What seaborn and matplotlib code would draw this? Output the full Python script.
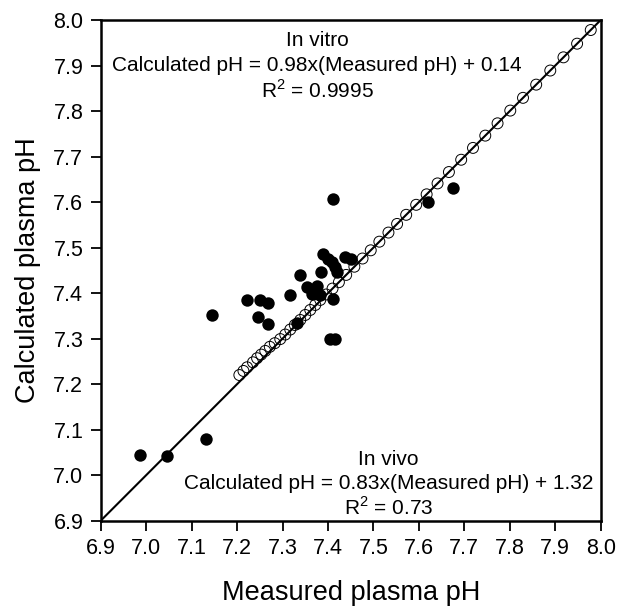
import matplotlib
matplotlib.use("Agg")
import matplotlib.pyplot as plt
import seaborn as sns
import pandas as pd

# In vitro (open circles)
x_vitro = [7.205, 7.214, 7.222, 7.235, 7.244, 7.253, 7.262, 7.272, 7.283, 7.295,
           7.306, 7.317, 7.327, 7.339, 7.350, 7.361, 7.372, 7.383, 7.396, 7.410,
           7.424, 7.440, 7.458, 7.476, 7.494, 7.513, 7.533, 7.552, 7.572, 7.594,
           7.617, 7.641, 7.666, 7.693, 7.719, 7.746, 7.773, 7.801, 7.829, 7.858,
           7.889, 7.918, 7.948, 7.978]
y_vitro = [7.220, 7.229, 7.237, 7.248, 7.257, 7.265, 7.273, 7.282, 7.290, 7.299,
           7.309, 7.320, 7.330, 7.341, 7.352, 7.363, 7.374, 7.385, 7.397, 7.410,
           7.424, 7.440, 7.458, 7.476, 7.494, 7.513, 7.533, 7.552, 7.572, 7.594,
           7.617, 7.641, 7.666, 7.693, 7.719, 7.746, 7.773, 7.801, 7.829, 7.858,
           7.889, 7.918, 7.948, 7.978]

# In vivo (filled circles)
x_vivo = [6.986, 7.046, 7.132, 7.145, 7.221, 7.250, 7.247, 7.269, 7.269, 7.317,
          7.339, 7.331, 7.353, 7.375, 7.364, 7.383, 7.384, 7.390, 7.401, 7.408,
          7.416, 7.419, 7.437, 7.450, 7.412, 7.412, 7.405, 7.415, 7.621, 7.675,
          7.373]
y_vivo = [7.044, 7.043, 7.079, 7.352, 7.385, 7.385, 7.348, 7.379, 7.333, 7.396,
          7.440, 7.335, 7.414, 7.415, 7.399, 7.396, 7.446, 7.487, 7.476, 7.469,
          7.458, 7.447, 7.480, 7.476, 7.386, 7.607, 7.300, 7.300, 7.601, 7.630,
          7.405]

ticks = [6.9, 7.0, 7.1, 7.2, 7.3, 7.4, 7.5, 7.6, 7.7, 7.8, 7.9, 8.0]
tick_labels = ["6.9", "7.0", "7.1", "7.2", "7.3", "7.4", "7.5", "7.6", "7.7", "7.8", "7.9", "8.0"]
identity = [6.9, 8.0]

sns.set_theme(style="ticks", rc={
    "text.color": "black", "axes.labelcolor": "black",
    "xtick.color": "black", "ytick.color": "black",
    "axes.edgecolor": "black",
})
plt.rcParams['font.family'] = ['Liberation Sans', 'DejaVu Sans']
plt.rcParams['mathtext.fontset'] = 'custom'
plt.rcParams['mathtext.rm'] = 'Liberation Sans'

fig = plt.figure(figsize=(6.19, 6.08), dpi=100)
ax = fig.add_axes([0.1627, 0.1436, 0.8078, 0.8235])

df_vitro = pd.DataFrame({"x": x_vitro, "y": y_vitro})
df_vivo = pd.DataFrame({"x": x_vivo, "y": y_vivo})
df_line = pd.DataFrame({"x": identity, "y": identity})

sns.scatterplot(data=df_vitro, x="x", y="y", ax=ax, s=62, marker="o",
                facecolor="none", edgecolor="black", linewidth=0.7, zorder=2)
sns.lineplot(data=df_line, x="x", y="y", ax=ax, color="black", linewidth=1.5, zorder=3)
sns.scatterplot(data=df_vivo, x="x", y="y", ax=ax, s=80, marker="o",
                color="black", edgecolor="black", linewidth=0, zorder=4)

ax.set_xlim(6.9, 8.0)
ax.set_ylim(6.9, 8.0)
ax.set_xticks(ticks)
ax.set_xticklabels(tick_labels)
ax.set_yticks(ticks)
ax.set_yticklabels(tick_labels)
ax.tick_params(axis="both", direction="out", length=7.5, width=1.3,
               labelsize=15.5, color="black", labelcolor="black", pad=5)
for sp in ax.spines.values():
    sp.set_visible(True)
    sp.set_linewidth(1.8)
    sp.set_color("black")

ax.set_xlabel("Measured plasma pH", fontsize=19.5, labelpad=15, color="black")
ax.set_ylabel("Calculated plasma pH", fontsize=19.5, labelpad=9, color="black")

fs = 15
ax.text(7.376, 7.954, "In vitro", ha="center", va="center", fontsize=fs, color="black")
ax.text(7.376, 7.901, "Calculated pH = 0.98x(Measured pH) + 0.14", ha="center", va="center", fontsize=fs, color="black")
ax.text(7.376, 7.846, "R$^2$ = 0.9995", ha="center", va="center", fontsize=fs, color="black")

ax.text(7.533, 7.035, "In vivo", ha="center", va="center", fontsize=fs, color="black")
ax.text(7.533, 6.982, "Calculated pH = 0.83x(Measured pH) + 1.32", ha="center", va="center", fontsize=fs, color="black")
ax.text(7.533, 6.928, "R$^2$ = 0.73", ha="center", va="center", fontsize=fs, color="black")

fig.savefig("out.png", dpi=100)
